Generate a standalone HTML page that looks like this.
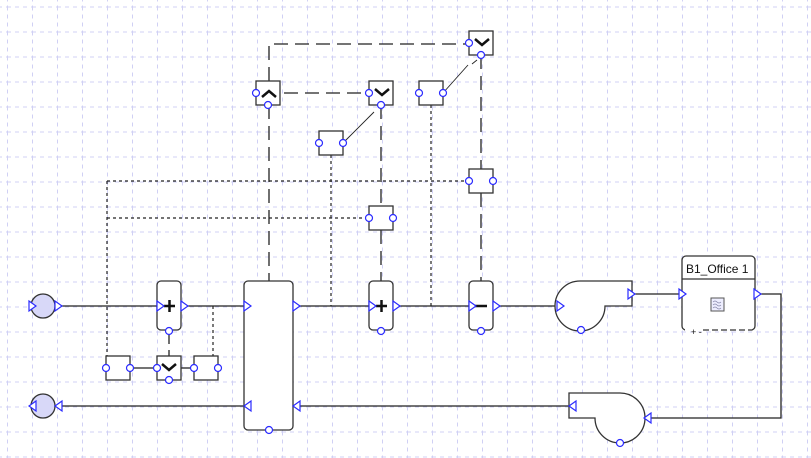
<!DOCTYPE html>
<html><head><meta charset="utf-8"><style>
html,body{margin:0;padding:0;background:#fff;}
svg{display:block;}
</style></head><body>
<svg width="811" height="458" viewBox="0 0 811 458" xmlns="http://www.w3.org/2000/svg" font-family="Liberation Sans, sans-serif">
<defs>
<pattern id="g" x="7" y="6.5" width="25" height="25" patternUnits="userSpaceOnUse">
<line x1="0.5" y1="0" x2="0.5" y2="25" stroke="#d0d0f4" stroke-width="1" stroke-dasharray="4,4"/>
<line x1="0" y1="0.5" x2="25" y2="0.5" stroke="#d0d0f4" stroke-width="1" stroke-dasharray="4,4"/>
</pattern>
</defs>
<rect width="811" height="458" fill="url(#g)"/>

<g stroke="#222" fill="none" stroke-width="1.3">
<line x1="55" y1="306" x2="557" y2="306"/>
<line x1="632" y1="294" x2="682" y2="294"/>
<polyline points="757,294 781,294 781,418 645,418"/>
<line x1="569" y1="406" x2="45" y2="406"/>
<line x1="169" y1="335" x2="169" y2="344"/>
<line x1="169" y1="350" x2="169" y2="356"/>
<line x1="130" y1="368" x2="157" y2="368"/>
<line x1="181" y1="368" x2="194" y2="368"/>
</g>

<g stroke="#222" fill="none" stroke-width="1.2" stroke-dasharray="3,3">
<line x1="107" y1="181" x2="107" y2="356"/>
<line x1="107" y1="181" x2="469" y2="181"/>
<line x1="107" y1="218" x2="369" y2="218"/>
<line x1="213" y1="306" x2="213" y2="356"/>
<line x1="331" y1="155" x2="331" y2="306"/>
<line x1="431" y1="105" x2="431" y2="306"/>
</g>

<g stroke="#222" fill="none" stroke-width="1.3" stroke-dasharray="14,7">
<polyline points="269,81 269,44 469,44"/>
<line x1="284" y1="93" x2="369" y2="93"/>
<line x1="269" y1="105" x2="269" y2="281"/>
<line x1="381" y1="105" x2="381" y2="206"/>
<line x1="381" y1="230" x2="381" y2="281"/>
<line x1="481" y1="55" x2="481" y2="169"/>
<line x1="481" y1="193" x2="481" y2="281"/>
</g>
<g stroke="#222" stroke-width="0.9">
<line x1="343" y1="143" x2="374" y2="112"/>
<line x1="443" y1="93" x2="468" y2="65"/>
<line x1="477" y1="60" x2="472" y2="64"/>
</g>

<g stroke="#333" fill="#fff" stroke-width="1.3">
<circle cx="43" cy="306" r="12" fill="#d8d8f8"/>
<circle cx="43" cy="406" r="12" fill="#d8d8f8"/>
<rect x="157" y="281" width="24" height="49" rx="4"/>
<rect x="244" y="281" width="49" height="149" rx="4"/>
<rect x="369" y="281" width="24" height="49" rx="4"/>
<rect x="469" y="281" width="24" height="49" rx="4"/>
<rect x="106" y="356" width="24" height="24"/>
<rect x="157" y="356" width="24" height="24"/>
<rect x="194" y="356" width="24" height="24"/>
<rect x="256" y="81" width="24" height="24"/>
<rect x="369" y="81" width="24" height="24"/>
<rect x="419" y="81" width="24" height="24"/>
<rect x="469" y="31" width="24" height="24"/>
<rect x="319" y="131" width="24" height="24"/>
<rect x="369" y="206" width="24" height="24"/>
<rect x="469" y="169" width="24" height="24"/>
<path d="M632,281 L580,281 A25,25 0 1 0 605,306 L632,306 Z"/>
<path d="M569,393 L620,393 A25,25 0 1 1 595,418 L569,418 Z"/>
<rect x="682" y="256" width="73" height="74" rx="4"/>
</g>
<line x1="682" y1="279" x2="755" y2="279" stroke="#333" stroke-width="1.2"/>
<line x1="685" y1="330" x2="752" y2="330" stroke="#fff" stroke-width="3"/>
<line x1="703" y1="330" x2="752" y2="330" stroke="#333" stroke-width="1.2" stroke-dasharray="6,3"/>
<text x="686" y="273" font-size="12" fill="#111">B1_Office 1</text>
<text x="691" y="335" font-size="9" fill="#111">+ -</text>
<rect x="711" y="298" width="13" height="13" fill="#eef" stroke="#555" stroke-width="1"/>
<path d="M713,302 q2,-2 4,0 t4,0 M713,305 q2,-2 4,0 t4,0 M713,308 q2,-2 4,0 t4,0" stroke="#88a" fill="none" stroke-width="0.7"/>

<g stroke="#111" stroke-width="2.5" fill="none">
<path d="M164,306 h11 M169.5,300 v12"/>
<path d="M376,306 h11 M381.5,300 v12"/>
<path d="M475,306 h12"/>
<path d="M162,364 l7,6 l7,-6"/>
<path d="M375,89 l7,6 l7,-6"/>
<path d="M475,39 l7,6 l7,-6"/>
<path d="M262,97 l7,-6 l7,6"/>
</g>

<g fill="#fff" stroke="#2b2bff" stroke-width="1.2">
<circle cx="169" cy="331" r="3.5"/>
<circle cx="269" cy="430" r="3.5"/>
<circle cx="381" cy="331" r="3.5"/>
<circle cx="481" cy="331" r="3.5"/>
<circle cx="581" cy="330" r="3.5"/>
<circle cx="620" cy="443" r="3.5"/>
<circle cx="106" cy="368" r="3.5"/><circle cx="130" cy="368" r="3.5"/>
<circle cx="157" cy="368" r="3.5"/><circle cx="169" cy="380" r="3.5"/>
<circle cx="194" cy="368" r="3.5"/><circle cx="218" cy="368" r="3.5"/>
<circle cx="256" cy="93" r="3.5"/><circle cx="268" cy="105" r="3.5"/>
<circle cx="369" cy="93" r="3.5"/><circle cx="381" cy="105" r="3.5"/>
<circle cx="419" cy="93" r="3.5"/><circle cx="443" cy="93" r="3.5"/>
<circle cx="469" cy="43" r="3.5"/><circle cx="481" cy="55" r="3.5"/>
<circle cx="319" cy="143" r="3.5"/><circle cx="343" cy="143" r="3.5"/>
<circle cx="369" cy="218" r="3.5"/><circle cx="393" cy="218" r="3.5"/>
<circle cx="469" cy="181" r="3.5"/><circle cx="493" cy="181" r="3.5"/>
</g>
<g fill="#fff" stroke="#2b2bff" stroke-width="1.2">
<path d="M29,301 l7,5 l-7,5 z"/>
<path d="M55,301 l7,5 l-7,5 z"/>
<path d="M157,301 l7,5 l-7,5 z"/>
<path d="M181,301 l7,5 l-7,5 z"/>
<path d="M244,301 l7,5 l-7,5 z"/>
<path d="M293,301 l7,5 l-7,5 z"/>
<path d="M369,301 l7,5 l-7,5 z"/>
<path d="M393,301 l7,5 l-7,5 z"/>
<path d="M469,301 l7,5 l-7,5 z"/>
<path d="M493,301 l7,5 l-7,5 z"/>
<path d="M557,301 l7,5 l-7,5 z"/>
<path d="M628,289 l7,5 l-7,5 z"/>
<path d="M679,289 l7,5 l-7,5 z"/>
<path d="M754,289 l7,5 l-7,5 z"/>
<path d="M36,401 l-7,5 l7,5 z"/>
<path d="M62,401 l-7,5 l7,5 z"/>
<path d="M251,401 l-7,5 l7,5 z"/>
<path d="M300,401 l-7,5 l7,5 z"/>
<path d="M576,401 l-7,5 l7,5 z"/>
<path d="M651,413 l-7,5 l7,5 z"/>
</g>
</svg>
</body></html>
